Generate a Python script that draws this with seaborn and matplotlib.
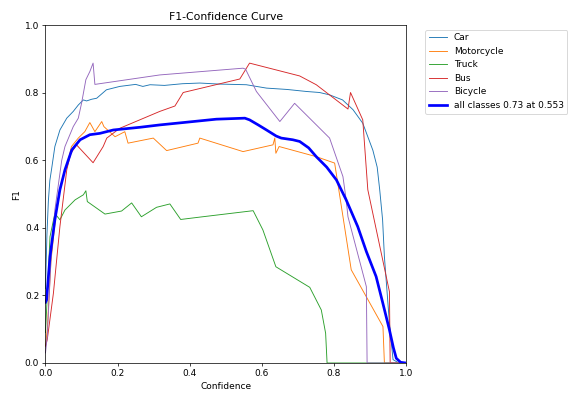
import pandas as pd
import seaborn as sns
import matplotlib
matplotlib.use("Agg")
import matplotlib.pyplot as plt

classes = ["Car", "Motorcycle", "Truck", "Bus", "Bicycle"]
class_colors = ["tab:blue", "tab:orange", "tab:green", "tab:red", "tab:purple"]

car_x = [0, 0.004, 0.008, 0.012, 0.017, 0.026, 0.040, 0.059, 0.077, 0.091, 0.105, 0.114,
         0.128, 0.142, 0.155, 0.169, 0.206, 0.25, 0.27, 0.29, 0.33, 0.38, 0.428, 0.48,
         0.557, 0.613, 0.67, 0.724, 0.76, 0.788, 0.824, 0.853, 0.88, 0.908, 0.92, 0.927,
         0.935, 0.94, 0.954, 0.964, 0.98, 1.0]
car_y = [0.22, 0.38, 0.48, 0.54, 0.575, 0.641, 0.690, 0.725, 0.745, 0.764, 0.779, 0.776,
         0.781, 0.784, 0.796, 0.809, 0.819, 0.825, 0.819, 0.824, 0.822, 0.827, 0.829, 0.826,
         0.824, 0.814, 0.81, 0.804, 0.801, 0.794, 0.779, 0.75, 0.71, 0.63, 0.58, 0.513,
         0.424, 0.315, 0.118, 0.01, 0.0, 0.0]

moto_x = [0, 0.005, 0.015, 0.03, 0.045, 0.063, 0.072, 0.091, 0.109, 0.123, 0.137, 0.156,
          0.162, 0.193, 0.22, 0.229, 0.299, 0.336, 0.423, 0.428, 0.548, 0.631, 0.636, 0.639,
          0.648, 0.751, 0.802, 0.848, 0.936, 0.94, 1.0]
moto_y = [0.05, 0.1, 0.3, 0.45, 0.54, 0.60, 0.641, 0.666, 0.685, 0.712, 0.685, 0.715,
          0.70, 0.67, 0.685, 0.651, 0.666, 0.629, 0.651, 0.666, 0.626, 0.646, 0.666, 0.621,
          0.641, 0.611, 0.592, 0.276, 0.108, 0.0, 0.0]

truck_x = [0, 0.005, 0.0125, 0.026, 0.04, 0.054, 0.082, 0.105, 0.112, 0.116, 0.165, 0.211,
           0.239, 0.266, 0.308, 0.345, 0.375, 0.428, 0.576, 0.603, 0.639, 0.733, 0.765,
           0.777, 0.781, 1.0]
truck_y = [0.09, 0.2, 0.374, 0.443, 0.424, 0.453, 0.483, 0.498, 0.51, 0.478, 0.441, 0.45,
           0.474, 0.433, 0.461, 0.471, 0.425, 0.432, 0.451, 0.394, 0.285, 0.224, 0.157,
           0.088, 0.0, 0.0]

bus_x = [0, 0.005, 0.022, 0.04, 0.059, 0.07, 0.086, 0.132, 0.16, 0.17, 0.206, 0.317,
         0.359, 0.382, 0.539, 0.566, 0.705, 0.751, 0.839, 0.846, 0.88, 0.894, 0.954,
         0.956, 1.0]
bus_y = [0.05, 0.07, 0.207, 0.404, 0.572, 0.62, 0.646, 0.593, 0.641, 0.666, 0.695, 0.745,
         0.761, 0.801, 0.841, 0.888, 0.85, 0.824, 0.752, 0.801, 0.72, 0.513, 0.211,
         0.0, 0.0]

bike_x = [0, 0.005, 0.015, 0.026, 0.045, 0.054, 0.077, 0.091, 0.1, 0.112, 0.123, 0.132,
          0.137, 0.317, 0.548, 0.555, 0.585, 0.65, 0.691, 0.788, 0.825, 0.834, 0.839,
          0.89, 0.892, 1.0]
bike_y = [0.03, 0.08, 0.3, 0.453, 0.60, 0.641, 0.70, 0.725, 0.769, 0.839, 0.863, 0.888,
          0.825, 0.853, 0.873, 0.87, 0.804, 0.715, 0.769, 0.666, 0.552, 0.483, 0.433,
          0.226, 0.0, 0.0]

all_x = [0, 0.003, 0.0125, 0.026, 0.04, 0.054, 0.073, 0.096, 0.123, 0.151, 0.188, 0.262,
         0.317, 0.382, 0.474, 0.553, 0.566, 0.59, 0.613, 0.64, 0.654, 0.686, 0.705, 0.73,
         0.751, 0.78, 0.807, 0.834, 0.866, 0.89, 0.917, 0.935, 0.954, 0.965, 0.973, 0.985, 1.0]
all_y = [0.18, 0.187, 0.315, 0.424, 0.513, 0.572, 0.631, 0.661, 0.676, 0.68, 0.69, 0.698,
         0.705, 0.712, 0.722, 0.725, 0.72, 0.705, 0.69, 0.672, 0.666, 0.661, 0.656, 0.637,
         0.611, 0.58, 0.542, 0.483, 0.404, 0.33, 0.256, 0.18, 0.098, 0.045, 0.014, 0.002, 0.0]
all_label = "all classes 0.73 at 0.553"

curves = [(car_x, car_y), (moto_x, moto_y), (truck_x, truck_y), (bus_x, bus_y), (bike_x, bike_y)]

# === 2. Figure ===
fig, ax = plt.subplots(figsize=(587 / 65, 394 / 65), dpi=65)
fig.subplots_adjust(left=0.0775, right=0.6917, bottom=0.0787, top=0.9358)

for name, color, (xs, ys) in zip(classes, class_colors, curves):
    df = pd.DataFrame({"Confidence": xs, "F1": ys})
    sns.lineplot(data=df, x="Confidence", y="F1", ax=ax, color=color, linewidth=1,
                 label=name, estimator=None, sort=False)

df_all = pd.DataFrame({"Confidence": all_x, "F1": all_y})
sns.lineplot(data=df_all, x="Confidence", y="F1", ax=ax, color="blue", linewidth=3,
             label=all_label, estimator=None, sort=False)

ax.set_xlim(0, 1)
ax.set_ylim(0, 1)
ax.set_xlabel("Confidence")
ax.set_ylabel("F1")
ax.set_title("F1-Confidence Curve")
handles, labels = ax.get_legend_handles_labels()
ax.legend(handles, labels, bbox_to_anchor=(1.04, 1), loc="upper left")

plt.savefig("out.png", dpi=65)
